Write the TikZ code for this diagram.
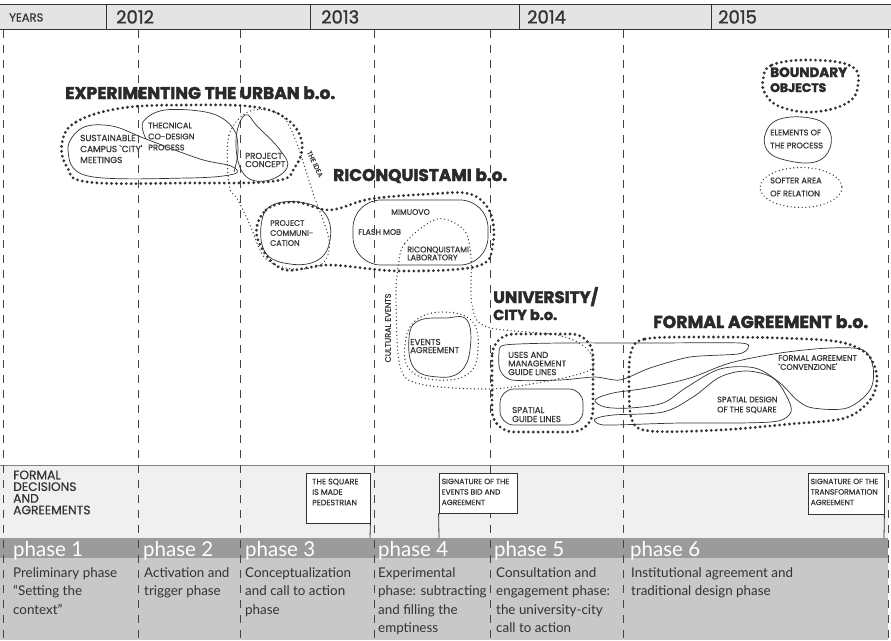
\documentclass[tikz,border=0pt]{standalone}
\usepackage{fontspec}
\usepackage{graphicx}
\setmainfont{Lato}
\newfontfamily\labfont{Poppins}[FakeBold=0.5]
\newfontfamily\yrfont{Poppins}[FakeBold=1.2]
\newfontfamily\ttlfont{Poppins}[BoldFeatures={FakeBold=2.2}]
\definecolor{bargray}{HTML}{E4E4E4}
\definecolor{fdgray}{HTML}{F0F0F0}
\definecolor{phgray}{HTML}{9B9B9B}
\definecolor{dsgray}{HTML}{C8C8C8}
\definecolor{ink}{HTML}{333333}
\definecolor{ttlc}{HTML}{2A2A2A}
\definecolor{dashc}{HTML}{444444}
\newcommand{\fitw}[2]{\resizebox{#1}{!}{#2}}
\begin{document}
\begin{tikzpicture}[x=1pt,y=-1pt,
 thickdots/.style={draw=ink, line width=3.1pt, dash pattern=on 0pt off 4.9pt, line cap=round},
 softdots/.style={draw=ink, line width=1.4pt, dash pattern=on 0pt off 3.7pt, line cap=round},
 element/.style={draw=ink, line width=0.7pt},
 vdash/.style={draw=dashc, line width=0.9pt, dash pattern=on 8pt off 7pt},
 lbl/.style={font=\labfont\fontsize{8.5}{9}\selectfont, text=ink, align=left, inner sep=0pt, anchor=west},
 ttl/.style={font=\ttlfont\bfseries\fontsize{16}{16}\selectfont, text=ttlc, inner sep=0pt, anchor=base west},
 phasetxt/.style={font=\fontsize{20.5}{20.5}\selectfont, text=white, inner sep=0pt, anchor=base west},
 desc/.style={font=\fontsize{13.4}{18.3}\selectfont, text=ink, align=left, inner sep=0pt, anchor=north west},
 fdbox/.style={draw=ink, fill=white, line width=0.8pt, inner sep=0pt},
 boxtxt/.style={font=\labfont\fontsize{7.9}{10.5}\selectfont, text=ink, align=left, inner sep=0pt, anchor=north west},
 yeartxt/.style={font=\yrfont\fontsize{18}{18}\selectfont, text=ink, inner sep=0pt, anchor=base west},
]
\useasboundingbox (0,0) rectangle (891,640);
\fill[white] (0,0) rectangle (891,640);
% top bar
\fill[bargray] (0,4) rectangle (891,29);
\draw[ink, line width=0.8pt] (0,4) -- (891,4) (0,29) -- (891,29);
\foreach \xx in {106,310,519,711} \draw[ink, line width=0.8pt] (\xx,4) -- (\xx,29);
\node[font=\labfont\fontsize{11.5}{11.5}\selectfont, text=ink, inner sep=0pt, anchor=base west] (years) at (9,21.5) {YEARS};
\node[yeartxt] (y12) at (116,23.5) {2012};
\node[yeartxt] (y13) at (321,23.5) {2013};
\node[yeartxt] (y14) at (527,23.5) {2014};
\node[yeartxt] (y15) at (718,23.5) {2015};
% bands
\fill[fdgray] (0,465) rectangle (888,538);
\draw[gray, line width=0.6pt] (0,465) -- (888,465);
\fill[phgray] (0,538) rectangle (888,558);
\fill[dsgray] (0,558) rectangle (888,640);
% vertical dashed lines
\foreach \xx in {3,138,240,374,490,623,888} \draw[vdash] (\xx,30) -- (\xx,640);

% ---------- EXPERIMENTING THE URBAN ----------
\draw[thickdots] plot[smooth cycle, tension=0.65] coordinates {(62,143) (76,122) (122,108) (188,105) (255,107) (288,120) (302,143) (295,167) (275,181) (188,183) (88,182) (67,167)};
\draw[element] plot[smooth cycle, tension=0.6] coordinates {(68,150) (82,128) (112,126) (146,139) (200,159) (231,166) (234,174) (188,178) (88,176)};
\draw[element] plot[smooth, tension=0.6] coordinates {(146,139) (143,122) (165,110) (210,113) (233,128) (238,150) (234,172)};
\draw[element] plot[smooth cycle, tension=0.7] coordinates {(245,115) (258,127) (280,150) (287,168) (265,181) (243,173) (236,140)};
\draw[softdots] plot[smooth cycle, tension=0.55] coordinates {(229,185) (229,135) (250,111) (281,115) (297,144) (313,193) (329,240) (322,264) (292,269) (265,258) (250,225) (238,200)};
\node[ttl] (t1) at (65,99) {\fitw{270pt}{EXPERIMENTING THE URBAN b.o.}};
\node[lbl, font=\labfont\fontsize{8.9}{11}\selectfont] (l1) at (80,149) {SUSTAINABLE\\CAMPUS `CITY'\\MEETINGS};
\node[lbl, font=\labfont\fontsize{8.2}{11}\selectfont] (l2) at (148,136.5) {THECNICAL\\CO-DESIGN\\PROCESS};
\node[lbl, font=\labfont\fontsize{8.6}{8.2}\selectfont] (l3) at (245,160) {PROJECT\\CONCEPT};
\node[lbl, rotate=-64, font=\labfont\fontsize{6.8}{7}\selectfont, anchor=center] (idea) at (315,164) {THE IDEA};

% ---------- RICONQUISTAMI ----------
\draw[thickdots] plot[smooth cycle, tension=0.6] coordinates {(257,237) (266,210) (295,202) (330,210) (370,199) (430,194) (470,194) (490,212) (493,243) (478,266) (400,271) (330,265) (282,269)};
\draw[element] plot[smooth cycle, tension=0.7] coordinates {(262,220) (275,204) (305,203) (326,215) (330,240) (318,260) (290,264) (265,252)};
\draw[element, rounded corners=28] (353,200) rectangle (488,265);
\node[ttl] (t2) at (333,181) {\fitw{174pt}{RICONQUISTAMI b.o.}};
\node[lbl, font=\labfont\fontsize{7.9}{10}\selectfont] (l4) at (270,233) {PROJECT\\COMMUNI-\\CATION};
\node[lbl, font=\labfont\fontsize{7.9}{9}\selectfont] (l5) at (391,212) {MIMUOVO};
\node[lbl, font=\labfont\fontsize{7.9}{9}\selectfont] (l6) at (358,232) {FLASH MOB};
\node[lbl, font=\labfont\fontsize{8}{8}\selectfont] (l7) at (407,253.5) {RICONQUISTAMI\\LABORATORY};

% ---------- cultural events / events agreement ----------
\draw[softdots] plot[smooth cycle, tension=0.55] coordinates {(398,268) (405,243) (437,219) (464,230) (471,258) (472,305) (487,327) (557,335) (585,347) (594,364) (583,373) (537,383) (487,389) (420,384) (400,366) (396,300)};
\draw[softdots] plot[smooth cycle, tension=0.7] coordinates {(405,345) (415,321) (443,312) (472,321) (478,350) (468,374) (437,380) (410,370)};
\draw[element] plot[smooth cycle, tension=0.7] coordinates {(409,338) (418,321) (445,318) (467,320) (470,350) (460,372) (438,377) (414,368)};
\node[lbl, rotate=90, anchor=center, font=\labfont\fontsize{8}{8}\selectfont] (cult) at (388,328) {CULTURAL EVENTS};
\node[lbl, font=\labfont\fontsize{8.6}{8}\selectfont] (l8) at (410,346) {EVENTS\\AGREEMENT};

% ---------- UNIVERSITY / CITY ----------
\draw[thickdots, rounded corners=22] (492,334) rectangle (593,432);
\draw[element] plot[smooth cycle, tension=0.45] coordinates {(505,345) (560,343) (650,343) (740,343) (748,348) (738,354) (690,357) (650,368) (620,380) (595,377) (560,380) (512,380) (500,370) (499,353)};
\draw[element, rounded corners=14] (500,389) rectangle (583,425);
\node[ttl] (t3) at (493,303) {\fitw{105pt}{UNIVERSITY/}};
\node[ttl] (t4) at (493,320) {\fitw{64pt}{CITY b.o.}};
\node[lbl, font=\labfont\fontsize{8.5}{8.6}\selectfont] (l9) at (508,363.5) {USES AND\\MANAGEMENT\\GUIDE LINES};
\node[lbl, font=\labfont\fontsize{8.6}{9}\selectfont] (l10) at (512,414.5) {SPATIAL\\GUIDE LINES};

% ---------- FORMAL AGREEMENT ----------
\draw[thickdots] plot[smooth cycle, tension=0.55] coordinates {(631,352) (645,339) (700,337) (780,338) (840,342) (868,355) (877,378) (870,400) (845,418) (790,424) (720,430) (650,431) (632,420) (629,385)};
\draw[element] plot[smooth cycle, tension=0.55] coordinates {(595,400) (613,393) (647,388) (690,378) (730,363) (780,353) (830,348) (863,350) (873,367) (870,390) (847,408) (813,408) (797,400) (780,383) (755,368) (720,369) (687,387) (663,403) (630,408) (605,407)};
\draw[element] plot[smooth cycle, tension=0.55] coordinates {(595,419) (613,415) (663,412) (693,397) (720,377) (747,371) (773,378) (787,397) (791,412) (778,421) (740,423) (680,423) (613,425) (599,424)};
\node[ttl] (t5) at (653,328) {\fitw{215pt}{FORMAL AGREEMENT b.o.}};
\node[lbl, font=\labfont\fontsize{8}{9}\selectfont] (l11) at (778,362.5) {FORMAL AGREEMENT\\`CONVENZIONE'};
\node[lbl, font=\labfont\fontsize{8}{10}\selectfont] (l12) at (717,405) {SPATIAL DESIGN\\OF THE SQUARE};

% ---------- legend ----------
\draw[thickdots] plot[smooth cycle, tension=0.7] coordinates {(763,80) (772,65) (810,60) (851,66) (858,85) (847,103) (813,112) (781,107) (766,95)};
\node[ttl] (t6) at (770,77) {\fitw{77pt}{BOUNDARY}};
\node[ttl] (t7) at (770,92) {\fitw{56pt}{OBJECTS}};
\draw[element] plot[smooth cycle, tension=0.7] coordinates {(766,132) (780,119) (810,118) (828,128) (830,148) (815,162) (785,160) (767,150)};
\node[lbl, font=\labfont\fontsize{8.2}{13}\selectfont] (l13) at (770,139) {ELEMENTS OF\\THE PROCESS};
\draw[softdots] (801,187.5) ellipse [x radius=41, y radius=20];
\node[lbl, font=\labfont\fontsize{8.2}{13}\selectfont] (l14) at (770,187) {SOFTER AREA\\OF RELATION};

% ---------- formal decisions band ----------
\node[font=\labfont\fontsize{12.3}{11.7}\selectfont, text=ink, align=left, inner sep=0pt, anchor=west] (fd) at (13,492.5) {FORMAL\\DECISIONS\\AND\\AGREEMENTS};
\node[fdbox, minimum width=64pt, minimum height=50pt] (sq) at (338,498) {};
\node[boxtxt] (sqt) at (312,478.5) {THE SQUARE\\IS MADE\\PEDESTRIAN};
\coordinate (sqend) at (370,538);
\draw[ink, line width=0.8pt] (sq.south east) -- (sqend);
\node[fdbox, minimum width=78pt, minimum height=40pt] (ev) at (478,493) {};
\node[boxtxt, font=\labfont\fontsize{7.6}{10.5}\selectfont] (evt) at (441.5,478.5) {SIGNATURE OF THE\\EVENTS BID AND\\AGREEMENT};
\coordinate (evend) at (439,538);
\draw[ink, line width=0.8pt] (ev.south west) -- (evend);
\node[fdbox, minimum width=76pt, minimum height=41pt] (tr) at (846,493.5) {};
\node[boxtxt, font=\labfont\fontsize{7.6}{10.5}\selectfont] (trt) at (810.5,478.5) {SIGNATURE OF THE\\TRANSFORMATION\\AGREEMENT};
\coordinate (trend) at (884,538);
\draw[ink, line width=0.8pt] (tr.south east) -- (trend);

% ---------- phases ----------
\node[phasetxt] (p1) at (13,556) {phase 1};
\node[phasetxt] (p2) at (143,556) {phase 2};
\node[phasetxt] (p3) at (245,556) {phase 3};
\node[phasetxt] (p4) at (378,556) {phase 4};
\node[phasetxt] (p5) at (494,556) {phase 5};
\node[phasetxt] (p6) at (630,556) {phase 6};
\node[desc] (d1) at (13,567.5) {Preliminary phase\\“Setting the\\context”};
\node[desc] (d2) at (144,567.5) {Activation and\\trigger phase};
\node[desc] (d3) at (245,567.5) {Conceptualization\\and call to action\\phase};
\node[desc] (d4) at (378,567.5) {Experimental\\phase: subtracting\\and filling the\\emptiness};
\node[desc] (d5) at (496,567.5) {Consultation and\\engagement phase:\\the university-city\\call to action};
\node[desc] (d6) at (631,567.5) {Institutional agreement and\\traditional design phase};
\end{tikzpicture}
\end{document}
